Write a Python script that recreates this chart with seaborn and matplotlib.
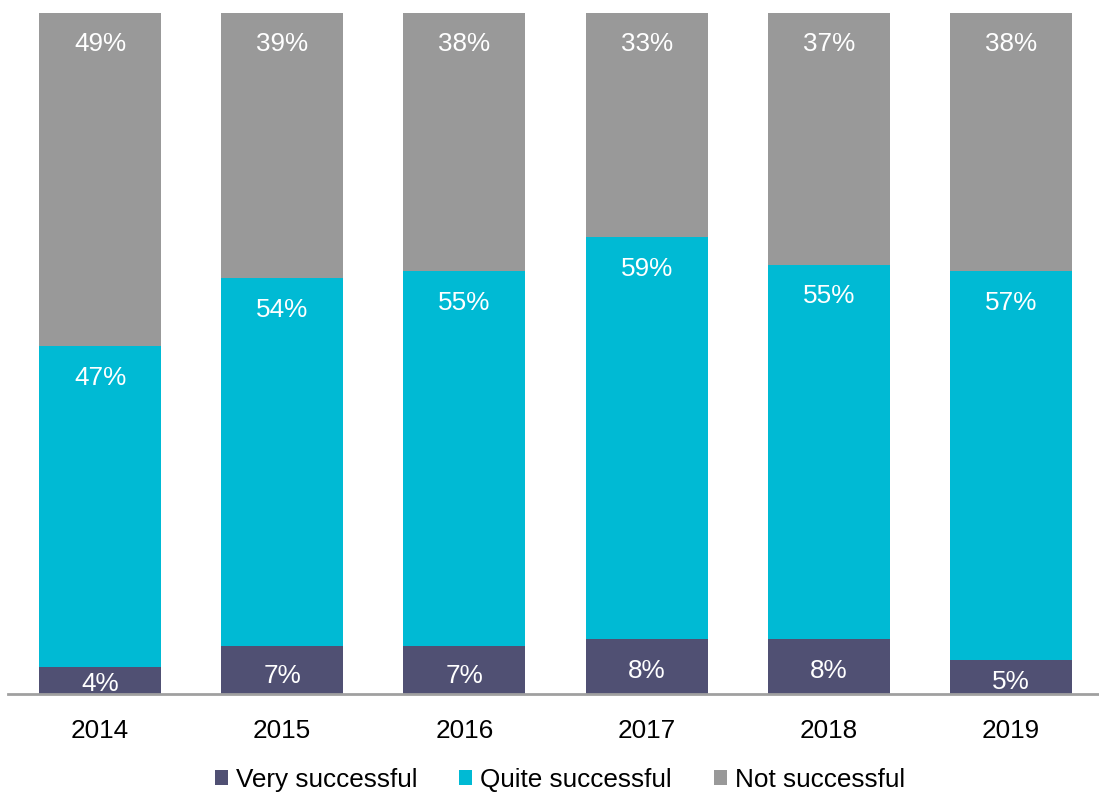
import matplotlib
matplotlib.use("Agg")
import matplotlib.pyplot as plt
from matplotlib.patches import Patch
import seaborn as sns
import pandas as pd

# Survey results by year (percent of respondents)
years = ["2014", "2015", "2016", "2017", "2018", "2019"]
very_successful = [4, 7, 7, 8, 8, 5]
quite_successful = [47, 54, 55, 59, 55, 57]
not_successful = [49, 39, 38, 33, 37, 38]

series_names = ["Very successful", "Quite successful", "Not successful"]
colors = ["#505073", "#00BAD4", "#999999"]

sns.set_theme(style="white")
plt.rcParams["font.family"] = ["Liberation Sans", "DejaVu Sans"]
plt.rcParams["text.color"] = "#000000"

df = pd.DataFrame({
    "year": years,
    "very": very_successful,
    "quite": quite_successful,
    "not": not_successful,
})
df["cum_very"] = df["very"]
df["cum_quite"] = df["very"] + df["quite"]
df["cum_not"] = df["very"] + df["quite"] + df["not"]

fig = plt.figure(figsize=(10.99, 7.95), dpi=100)
ax = fig.add_axes([8 / 1099, 1 - 694 / 795, 1091 / 1099, (694 - 12.5) / 795])

bar_width = 0.67
# draw from the top layer down so each stack reads as cumulative
for col, color in zip(["cum_not", "cum_quite", "cum_very"], colors[::-1]):
    sns.barplot(data=df, x="year", y=col, color=color, width=bar_width,
                saturation=1, ax=ax, linewidth=0, order=years)

ax.set_xlim(-0.505, 5.483)
ax.set_ylim(0, 100)
ax.set_xlabel("")
ax.set_ylabel("")
ax.set_yticks([])
for side in ["left", "right", "top"]:
    ax.spines[side].set_visible(False)
ax.spines["bottom"].set_color("#A0A0A0")
ax.spines["bottom"].set_linewidth(2)
ax.tick_params(axis="x", length=0, pad=18, labelsize=18.8, labelcolor="#000000")

# value labels inside each segment, near its top
for i in range(len(years)):
    bottom = 0
    for vals in (very_successful, quite_successful, not_successful):
        v = vals[i]
        top = bottom + v
        y = max(top - 4.4, bottom + v * 0.4)
        ax.text(i, y - 0.2, f"{v}%", ha="center", va="center", color="white",
                fontsize=18.8)
        bottom = top

handles = [Patch(facecolor=c, edgecolor="none", label=n)
           for c, n in zip(colors, series_names)]
fig.legend(handles=handles, loc="center", bbox_to_anchor=(560 / 1099, 1 - 780 / 795),
           ncol=3, frameon=False, fontsize=18.8, handlelength=0.5,
           handleheight=0.5, handletextpad=0.3, columnspacing=1.6,
           labelcolor="#000000")

fig.savefig("out.png", dpi=100)
